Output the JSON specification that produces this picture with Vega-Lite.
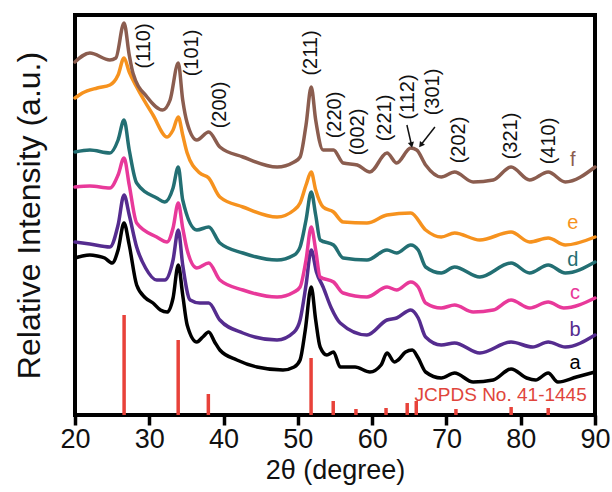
{
  "$schema": "https://vega.github.io/schema/vega-lite/v6.json",
  "width": 520,
  "height": 400,
  "autosize": "none",
  "padding": {"left": 75, "top": 15, "right": 17, "bottom": 77},
  "background": "white",
  "config": {"view": {"stroke": "#000", "strokeWidth": 4}, "font": "Liberation Sans"},
  "datasets": {
    "curves": [
      {"s":"a","x":20,"y":157},{"s":"a","x":21,"y":159},{"s":"a","x":22,"y":160},{"s":"a","x":23,"y":159},{"s":"a","x":24,"y":157},{"s":"a","x":25,"y":152},{"s":"a","x":25.8,"y":165},{"s":"a","x":26.6,"y":192},{"s":"a","x":27.3,"y":170},{"s":"a","x":28.3,"y":130},{"s":"a","x":29.5,"y":117},{"s":"a","x":30.5,"y":112},{"s":"a","x":31.5,"y":105},{"s":"a","x":32.4,"y":103},{"s":"a","x":33.2,"y":117},{"s":"a","x":33.9,"y":150},{"s":"a","x":34.5,"y":120},{"s":"a","x":35.1,"y":90},{"s":"a","x":36.4,"y":73},{"s":"a","x":37.2,"y":78},{"s":"a","x":38.0,"y":83},{"s":"a","x":38.8,"y":73},{"s":"a","x":39.5,"y":65},{"s":"a","x":41.8,"y":55},{"s":"a","x":44.5,"y":48},{"s":"a","x":48.0,"y":45},{"s":"a","x":49.5,"y":48},{"s":"a","x":50.3,"y":55},{"s":"a","x":51.0,"y":85},{"s":"a","x":51.8,"y":128},{"s":"a","x":52.4,"y":95},{"s":"a","x":53.0,"y":68},{"s":"a","x":53.9,"y":60},{"s":"a","x":54.8,"y":63},{"s":"a","x":55.7,"y":48},{"s":"a","x":57.7,"y":48},{"s":"a","x":59.7,"y":43},{"s":"a","x":61.2,"y":50},{"s":"a","x":62.0,"y":62},{"s":"a","x":63.0,"y":53},{"s":"a","x":63.5,"y":55},{"s":"a","x":64.5,"y":63},{"s":"a","x":65.4,"y":65},{"s":"a","x":66.2,"y":57},{"s":"a","x":67.2,"y":43},{"s":"a","x":69.3,"y":37},{"s":"a","x":71.1,"y":42},{"s":"a","x":73.6,"y":33},{"s":"a","x":76.3,"y":35},{"s":"a","x":78.7,"y":46},{"s":"a","x":80.8,"y":37},{"s":"a","x":82.0,"y":35},{"s":"a","x":83.7,"y":42},{"s":"a","x":85.0,"y":33},{"s":"a","x":87.5,"y":38},{"s":"a","x":90,"y":43},
      {"s":"b","x":20,"y":173},{"s":"b","x":22,"y":171},{"s":"b","x":24.7,"y":168},{"s":"b","x":25.8,"y":190},{"s":"b","x":26.6,"y":220},{"s":"b","x":27.3,"y":200},{"s":"b","x":28.3,"y":168},{"s":"b","x":29.5,"y":147},{"s":"b","x":31.0,"y":135},{"s":"b","x":32.1,"y":135},{"s":"b","x":33.2,"y":155},{"s":"b","x":33.9,"y":185},{"s":"b","x":34.5,"y":150},{"s":"b","x":35.5,"y":115},{"s":"b","x":36.8,"y":112},{"s":"b","x":38.0,"y":112},{"s":"b","x":39.5,"y":95},{"s":"b","x":42.6,"y":82},{"s":"b","x":47.2,"y":75},{"s":"b","x":49.5,"y":83},{"s":"b","x":50.3,"y":95},{"s":"b","x":51.1,"y":130},{"s":"b","x":51.8,"y":165},{"s":"b","x":52.5,"y":143},{"s":"b","x":53.4,"y":128},{"s":"b","x":54.5,"y":107},{"s":"b","x":55.7,"y":92},{"s":"b","x":59.3,"y":80},{"s":"b","x":62.0,"y":95},{"s":"b","x":63.3,"y":97},{"s":"b","x":65.2,"y":105},{"s":"b","x":66.2,"y":97},{"s":"b","x":67.2,"y":78},{"s":"b","x":69.3,"y":70},{"s":"b","x":71.1,"y":72},{"s":"b","x":74.5,"y":62},{"s":"b","x":78.7,"y":73},{"s":"b","x":81.6,"y":68},{"s":"b","x":83.7,"y":73},{"s":"b","x":86.0,"y":68},{"s":"b","x":90,"y":80},
      {"s":"c","x":20,"y":228},{"s":"c","x":22,"y":229},{"s":"c","x":24.7,"y":227},{"s":"c","x":25.8,"y":240},{"s":"c","x":26.6,"y":257},{"s":"c","x":27.3,"y":230},{"s":"c","x":28.3,"y":192},{"s":"c","x":31.0,"y":178},{"s":"c","x":32.4,"y":173},{"s":"c","x":33.2,"y":187},{"s":"c","x":33.9,"y":212},{"s":"c","x":34.5,"y":187},{"s":"c","x":35.1,"y":165},{"s":"c","x":36.4,"y":147},{"s":"c","x":38.0,"y":152},{"s":"c","x":39.5,"y":135},{"s":"c","x":42.6,"y":125},{"s":"c","x":47.2,"y":118},{"s":"c","x":49.5,"y":123},{"s":"c","x":50.3,"y":128},{"s":"c","x":51.1,"y":155},{"s":"c","x":51.8,"y":188},{"s":"c","x":52.4,"y":165},{"s":"c","x":53.0,"y":138},{"s":"c","x":54.8,"y":133},{"s":"c","x":56.1,"y":122},{"s":"c","x":59.3,"y":118},{"s":"c","x":62.0,"y":128},{"s":"c","x":63.3,"y":125},{"s":"c","x":65.2,"y":133},{"s":"c","x":66.2,"y":128},{"s":"c","x":67.2,"y":112},{"s":"c","x":69.3,"y":107},{"s":"c","x":71.1,"y":110},{"s":"c","x":73.6,"y":103},{"s":"c","x":76.3,"y":105},{"s":"c","x":78.7,"y":115},{"s":"c","x":81.2,"y":107},{"s":"c","x":83.7,"y":113},{"s":"c","x":85.8,"y":107},{"s":"c","x":90,"y":117},
      {"s":"d","x":20,"y":263},{"s":"d","x":22,"y":265},{"s":"d","x":24.7,"y":262},{"s":"d","x":25.8,"y":275},{"s":"d","x":26.6,"y":295},{"s":"d","x":27.3,"y":265},{"s":"d","x":28.3,"y":232},{"s":"d","x":31.0,"y":217},{"s":"d","x":32.1,"y":213},{"s":"d","x":33.2,"y":227},{"s":"d","x":33.9,"y":248},{"s":"d","x":34.5,"y":215},{"s":"d","x":36.4,"y":185},{"s":"d","x":38.0,"y":188},{"s":"d","x":39.5,"y":172},{"s":"d","x":42.6,"y":162},{"s":"d","x":47.2,"y":155},{"s":"d","x":49.5,"y":160},{"s":"d","x":50.3,"y":168},{"s":"d","x":51.1,"y":195},{"s":"d","x":51.8,"y":223},{"s":"d","x":52.4,"y":200},{"s":"d","x":53.0,"y":175},{"s":"d","x":54.8,"y":170},{"s":"d","x":56.1,"y":157},{"s":"d","x":59.3,"y":155},{"s":"d","x":62.0,"y":165},{"s":"d","x":63.3,"y":162},{"s":"d","x":65.2,"y":170},{"s":"d","x":66.2,"y":165},{"s":"d","x":67.2,"y":148},{"s":"d","x":69.3,"y":142},{"s":"d","x":71.1,"y":148},{"s":"d","x":74.5,"y":138},{"s":"d","x":78.7,"y":152},{"s":"d","x":81.2,"y":142},{"s":"d","x":83.7,"y":150},{"s":"d","x":86.0,"y":142},{"s":"d","x":90,"y":153},
      {"s":"e","x":20,"y":317},{"s":"e","x":21,"y":322},{"s":"e","x":23,"y":327},{"s":"e","x":24.7,"y":330},{"s":"e","x":25.8,"y":340},{"s":"e","x":26.6,"y":357},{"s":"e","x":27.3,"y":343},{"s":"e","x":28.3,"y":328},{"s":"e","x":30.5,"y":300},{"s":"e","x":32.4,"y":278},{"s":"e","x":33.2,"y":285},{"s":"e","x":33.9,"y":298},{"s":"e","x":34.5,"y":280},{"s":"e","x":35.1,"y":262},{"s":"e","x":36.8,"y":242},{"s":"e","x":38.0,"y":237},{"s":"e","x":39.5,"y":218},{"s":"e","x":42.6,"y":208},{"s":"e","x":47.2,"y":198},{"s":"e","x":49.5,"y":205},{"s":"e","x":50.3,"y":212},{"s":"e","x":51.1,"y":230},{"s":"e","x":51.8,"y":243},{"s":"e","x":52.4,"y":225},{"s":"e","x":53.4,"y":208},{"s":"e","x":54.8,"y":203},{"s":"e","x":56.1,"y":193},{"s":"e","x":59.3,"y":192},{"s":"e","x":62.0,"y":200},{"s":"e","x":65.2,"y":202},{"s":"e","x":67.2,"y":185},{"s":"e","x":69.3,"y":178},{"s":"e","x":71.1,"y":182},{"s":"e","x":74.5,"y":175},{"s":"e","x":78.7,"y":183},{"s":"e","x":81.2,"y":173},{"s":"e","x":83.7,"y":177},{"s":"e","x":86.0,"y":170},{"s":"e","x":90,"y":178},
      {"s":"f","x":20,"y":353},{"s":"f","x":22,"y":362},{"s":"f","x":24.7,"y":355},{"s":"f","x":25.5,"y":357},{"s":"f","x":26.6,"y":392},{"s":"f","x":27.3,"y":360},{"s":"f","x":27.8,"y":342},{"s":"f","x":29.7,"y":318},{"s":"f","x":31.8,"y":305},{"s":"f","x":32.8,"y":315},{"s":"f","x":33.9,"y":352},{"s":"f","x":34.5,"y":315},{"s":"f","x":35.1,"y":292},{"s":"f","x":36.4,"y":275},{"s":"f","x":38.0,"y":283},{"s":"f","x":39.5,"y":268},{"s":"f","x":42.6,"y":258},{"s":"f","x":47.2,"y":248},{"s":"f","x":49.5,"y":253},{"s":"f","x":50.3,"y":258},{"s":"f","x":51.1,"y":290},{"s":"f","x":51.8,"y":328},{"s":"f","x":52.4,"y":295},{"s":"f","x":53.4,"y":265},{"s":"f","x":54.8,"y":265},{"s":"f","x":56.1,"y":252},{"s":"f","x":58.0,"y":250},{"s":"f","x":59.7,"y":243},{"s":"f","x":62.0,"y":262},{"s":"f","x":63.3,"y":252},{"s":"f","x":65.2,"y":267},{"s":"f","x":66.0,"y":265},{"s":"f","x":67.2,"y":250},{"s":"f","x":69.3,"y":238},{"s":"f","x":71.1,"y":243},{"s":"f","x":73.6,"y":233},{"s":"f","x":76.3,"y":235},{"s":"f","x":78.7,"y":248},{"s":"f","x":81.2,"y":235},{"s":"f","x":83.7,"y":243},{"s":"f","x":86.0,"y":233},{"s":"f","x":90,"y":248}
    ],
    "sticks": [
      {"x":26.61,"y":100},{"x":33.89,"y":75},{"x":37.95,"y":21},{"x":51.78,"y":57},{"x":54.76,"y":14},{"x":57.82,"y":6},{"x":61.87,"y":7},{"x":64.72,"y":12},{"x":65.94,"y":14},{"x":71.28,"y":6},{"x":78.71,"y":8},{"x":83.7,"y":7}
    ],
    "seriesLabels": [
      {"s":"a","x":87.3,"y":52},{"s":"b","x":87.3,"y":85},{"s":"c","x":87.3,"y":122},{"s":"d","x":87.0,"y":155},{"s":"e","x":87.0,"y":192},{"s":"f","x":87.0,"y":255}
    ],
    "peaks": [
      {"t":"(110)","x":29.3,"y":369},{"t":"(101)","x":35.75,"y":362},{"t":"(200)","x":39.5,"y":310},{"t":"(211)","x":51.76,"y":362},{"t":"(220)","x":55.0,"y":300},{"t":"(002)","x":58.1,"y":283},{"t":"(221)","x":61.7,"y":297},{"t":"(112)","x":64.8,"y":318},{"t":"(301)","x":68.2,"y":323},{"t":"(202)","x":71.7,"y":275},{"t":"(321)","x":78.7,"y":279},{"t":"(410)","x":83.8,"y":274}
    ],
    "note": [{"t":"JCPDS No. 41-1445","x":77.3,"y":20}],
    "arrows": [
      {"x":64.68,"y":290,"x2":65.3,"y2":270},
      {"x":68.45,"y":288,"x2":66.55,"y2":270}
    ]
  },
  "layer": [
    {
      "data": {"name": "sticks"},
      "mark": {"type": "rule", "color": "#e8423a", "strokeWidth": 3.5},
      "encoding": {
        "x": {"field": "x", "type": "quantitative", "title": "2θ (degree)", "scale": {"domain": [20, 90], "nice": false, "zero": false},
          "axis": {"values": [20,25,30,35,40,45,50,55,60,65,70,75,80,85,90],
            "labelExpr": "datum.value % 10 === 0 ? datum.label : ''",
            "tickSize": {"condition": {"test": "datum.value % 10 === 0", "value": 10}, "value": 5},
            "tickWidth": 3.5, "tickColor": "#000", "domain": false, "grid": false,
            "labelFont": "Liberation Sans", "labelFontSize": 27, "labelColor": "#111", "labelPadding": 1,
            "labelFlush": false, "labelOverlap": false,
            "titleFont": "Liberation Sans", "titleFontSize": 27, "titleFontWeight": "normal", "titleColor": "#111", "titlePadding": 5}},
        "y": {"field": "y", "type": "quantitative", "title": "Relative Intensity (a.u.)", "scale": {"domain": [0, 400], "nice": false},
          "axis": {"labels": false, "ticks": false, "domain": false, "grid": false,
            "titleFont": "Liberation Sans", "titleFontSize": 32, "titleFontWeight": "normal", "titleColor": "#111", "titlePadding": 29}},
        "y2": {"datum": 0}
      }
    },
    {
      "data": {"name": "curves"},
      "mark": {"type": "line", "strokeWidth": 3.5, "interpolate": "monotone", "strokeJoin": "round", "strokeCap": "round"},
      "encoding": {
        "x": {"field": "x", "type": "quantitative", "title": "2θ (degree)"},
        "y": {"field": "y", "type": "quantitative", "title": "Relative Intensity (a.u.)"},
        "color": {"field": "s", "type": "nominal", "legend": null,
          "scale": {"domain": ["a","b","c","d","e","f"], "range": ["#000000","#552c8f","#e8399a","#236f73","#f6921e","#8b5d4f"]}}
      }
    },
    {
      "data": {"name": "seriesLabels"},
      "mark": {"type": "text", "font": "Liberation Sans", "fontSize": 20, "align": "center", "baseline": "middle"},
      "encoding": {
        "x": {"field": "x", "type": "quantitative", "title": "2θ (degree)"},
        "y": {"field": "y", "type": "quantitative", "title": "Relative Intensity (a.u.)"},
        "text": {"field": "s"},
        "color": {"field": "s", "type": "nominal", "legend": null}
      }
    },
    {
      "data": {"name": "peaks"},
      "mark": {"type": "text", "font": "Liberation Sans", "fontSize": 20, "angle": 270, "align": "center", "baseline": "middle", "color": "#111"},
      "encoding": {
        "x": {"field": "x", "type": "quantitative", "title": "2θ (degree)"},
        "y": {"field": "y", "type": "quantitative", "title": "Relative Intensity (a.u.)"},
        "text": {"field": "t"}
      }
    },
    {
      "data": {"name": "note"},
      "mark": {"type": "text", "font": "Liberation Sans", "fontSize": 19, "align": "center", "baseline": "middle", "color": "#e0453c"},
      "encoding": {
        "x": {"field": "x", "type": "quantitative", "title": "2θ (degree)"},
        "y": {"field": "y", "type": "quantitative", "title": "Relative Intensity (a.u.)"},
        "text": {"field": "t"}
      }
    },
    {
      "data": {"name": "arrows"},
      "mark": {"type": "rule", "color": "#111", "strokeWidth": 1.5},
      "encoding": {
        "x": {"field": "x", "type": "quantitative", "title": "2θ (degree)"},
        "y": {"field": "y", "type": "quantitative", "title": "Relative Intensity (a.u.)"},
        "x2": {"field": "x2"},
        "y2": {"field": "y2"}
      }
    },
    {
      "data": {"name": "arrows"},
      "transform": [{"filter": "datum.x < 66"}],
      "mark": {"type": "point", "shape": "triangle-down", "filled": true, "color": "#111", "size": 40, "opacity": 1, "angle": 347},
      "encoding": {
        "x": {"field": "x2", "type": "quantitative", "title": "2θ (degree)"},
        "y": {"field": "y2", "type": "quantitative", "title": "Relative Intensity (a.u.)"}
      }
    },
    {
      "data": {"name": "arrows"},
      "transform": [{"filter": "datum.x > 66"}],
      "mark": {"type": "point", "shape": "triangle-down", "filled": true, "color": "#111", "size": 40, "opacity": 1, "angle": 37},
      "encoding": {
        "x": {"field": "x2", "type": "quantitative", "title": "2θ (degree)"},
        "y": {"field": "y2", "type": "quantitative", "title": "Relative Intensity (a.u.)"}
      }
    }
  ]
}
